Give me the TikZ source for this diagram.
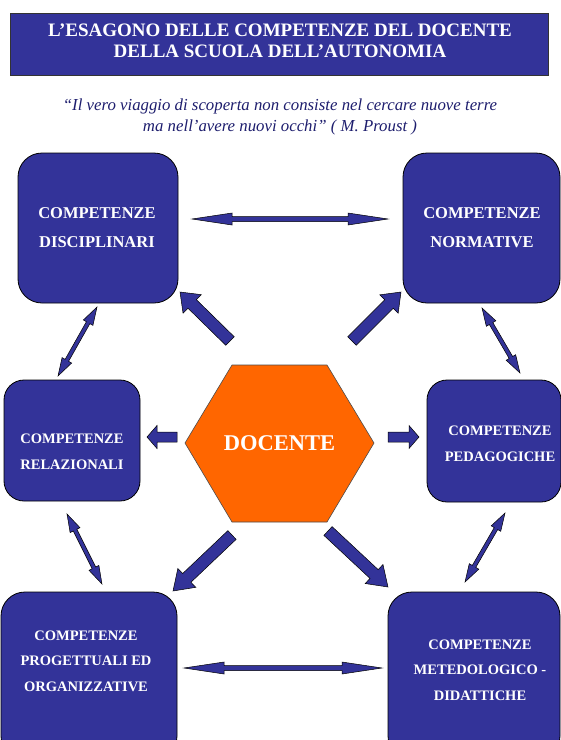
\documentclass[tikz,border=0pt]{standalone}
\usepackage{fontspec}
\setmainfont{Liberation Serif}
\usetikzlibrary{calc}
\definecolor{navy}{RGB}{51,51,153}
\definecolor{hexor}{RGB}{255,102,0}
\definecolor{quotec}{RGB}{30,30,110}
% block arrow: from, to, shaft half width, head half width, head length
\newcommand\blkarrow[5]{%
  \filldraw[arr] let \p1=(#1), \p2=(#2), \n1={atan2(\y2-\y1,\x2-\x1)}, \n2={veclen(\x2-\x1,\y2-\y1)} in
    [shift={(\p1)}, rotate=\n1]
    (0pt,-#3) -- ({\n2-#5},-#3) -- ({\n2-#5},-#4) -- (\n2,0pt) -- ({\n2-#5},#4) -- ({\n2-#5},#3) -- (0pt,#3) -- cycle;}
% double arrow
\newcommand\dblarrow[5]{%
  \filldraw[arr] let \p1=(#1), \p2=(#2), \n1={atan2(\y2-\y1,\x2-\x1)}, \n2={veclen(\x2-\x1,\y2-\y1)} in
    [shift={(\p1)}, rotate=\n1]
    (0pt,0pt) -- (#5,-#4) -- (#5,-#3) -- ({\n2-#5},-#3) -- ({\n2-#5},-#4) -- (\n2,0pt)
    -- ({\n2-#5},#4) -- ({\n2-#5},#3) -- (#5,#3) -- (#5,#4) -- cycle;}
\begin{document}
\begin{tikzpicture}[x=1pt,y=-1pt,
  box/.style={draw=black, line width=0.8pt, fill=navy, rounded corners=24pt, inner sep=0pt},
  sbox/.style={box, rounded corners=20pt},
  lbl/.style={text=white, align=center, inner sep=0pt, font=\bfseries\fontsize{16.5}{29}\selectfont},
  slbl/.style={lbl, font=\bfseries\fontsize{14.5}{25.5}\selectfont},
  arr/.style={draw=black, line width=0.5pt, fill=navy, line join=miter}]
\clip (0,0) rectangle (561,740);
\fill[white] (0,0) rectangle (561,740);

% title
\node[draw=black!80, line width=0.8pt, fill=navy, minimum width=538pt, minimum height=62pt, inner sep=0pt] (title) at (279,44) {};
\node[text=white, align=center, inner sep=0pt, font=\bfseries\fontsize{19}{21.5}\selectfont] (titletxt) at (280,41)
  {L’ESAGONO DELLE COMPETENZE DEL DOCENTE\\DELLA SCUOLA DELL’AUTONOMIA};

% quote
\node[text=quotec, align=center, inner sep=0pt, font=\itshape\fontsize{16.8}{21}\selectfont] (quote) at (280,117)
  {“Il vero viaggio di scoperta non consiste nel cercare nuove terre\\ma nell’avere nuovi occhi” ( M. Proust )};

% boxes
\node[box, minimum width=160pt, minimum height=150pt] (disc) at (98,228) {};
\node[box, minimum width=157pt, minimum height=150pt] (norm) at (481.5,228) {};
\node[sbox, minimum width=136pt, minimum height=121pt] (rel) at (72,440.5) {};
\node[sbox, minimum width=134pt, minimum height=122pt] (ped) at (494,441) {};
\node[box, minimum width=176pt, minimum height=168pt] (prog) at (89,676) {};
\node[box, minimum width=172pt, minimum height=168pt] (met) at (474,676) {};

\node[lbl] (discT) at (97,228) {COMPETENZE\\DISCIPLINARI};
\node[lbl] (normT) at (482,228) {COMPETENZE\\NORMATIVE};
\node[slbl] (relT) at (72,452) {COMPETENZE\\RELAZIONALI};
\node[slbl] (pedT) at (500,444) {COMPETENZE\\PEDAGOGICHE};
\node[slbl] (progT) at (86,661) {COMPETENZE\\PROGETTUALI ED\\ORGANIZZATIVE};
\node[slbl] (metT) at (480,670) {COMPETENZE\\METEDOLOGICO -\\DIDATTICHE};

% hexagon
\filldraw[fill=hexor, draw=black!70, line width=0.6pt]
  (185,443) -- (232,365) -- (327,365) -- (374,443) -- (327,522) -- (232,522) -- cycle;
\node[text=white, inner sep=0pt, font=\bfseries\fontsize{22.5}{26}\selectfont] (doc) at (279.5,443) {DOCENTE};

% arrow end points
\coordinate (a1s) at (230,341); \coordinate (a1e) at (180,292);
\coordinate (a2s) at (352,341); \coordinate (a2e) at (401,292);
\coordinate (a3s) at (177,437); \coordinate (a3e) at (147,437);
\coordinate (a4s) at (388,437); \coordinate (a4e) at (419,437);
\coordinate (a5s) at (232,535); \coordinate (a5e) at (173,591);
\coordinate (a6s) at (328,531); \coordinate (a6e) at (388,587);

\coordinate (d1s) at (192,219); \coordinate (d1e) at (388,219);
\coordinate (d2s) at (184,668); \coordinate (d2e) at (382,668);
\coordinate (d3s) at (97,307);  \coordinate (d3e) at (58,376);
\coordinate (d4s) at (482,308); \coordinate (d4e) at (520,373);
\coordinate (d5s) at (67,514);  \coordinate (d5e) at (102,584);
\coordinate (d6s) at (505,513); \coordinate (d6e) at (465,582);

\blkarrow{a1s}{a1e}{6pt}{13pt}{17pt}
\blkarrow{a2s}{a2e}{6pt}{13pt}{17pt}
\blkarrow{a3s}{a3e}{5pt}{11.5pt}{10pt}
\blkarrow{a4s}{a4e}{5pt}{11.5pt}{10pt}
\blkarrow{a5s}{a5e}{6pt}{13pt}{19pt}
\blkarrow{a6s}{a6e}{6pt}{13pt}{19pt}

\dblarrow{d1s}{d1e}{2.5pt}{6pt}{40pt}
\dblarrow{d2s}{d2e}{2.5pt}{6pt}{40pt}
\dblarrow{d3s}{d3e}{2pt}{5.5pt}{18pt}
\dblarrow{d4s}{d4e}{2pt}{5.5pt}{18pt}
\dblarrow{d5s}{d5e}{2pt}{5.5pt}{18pt}
\dblarrow{d6s}{d6e}{2pt}{5.5pt}{18pt}
\end{tikzpicture}
\end{document}
